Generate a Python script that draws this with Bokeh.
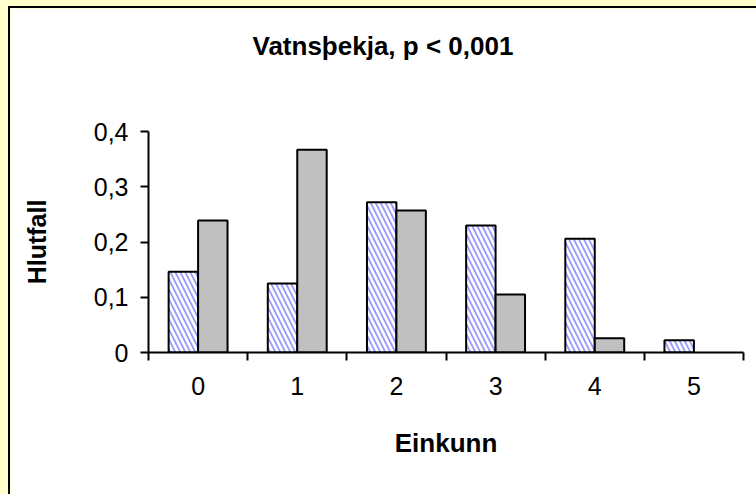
from bokeh.plotting import figure
from bokeh.models import FixedTicker, ColumnDataSource, GlobalInlineStyleSheet, Range1d, Title
from bokeh.embed import file_html
from bokeh.resources import INLINE

# ---- data ----
categories = ["0", "1", "2", "3", "4", "5"]
series_hatched = [0.146, 0.125, 0.272, 0.230, 0.206, 0.022]
series_grey = [0.239, 0.367, 0.257, 0.105, 0.026, 0.0]
y_ticks = [0.0, 0.1, 0.2, 0.3, 0.4]
y_tick_labels = ["0", "0,1", "0,2", "0,3", "0,4"]
title_text = "Vatnsþekja, p < 0,001"
x_label = "Einkunn"
y_label = "Hlutfall"

FONT = "Liberation Sans"
W, H = 770, 510

xs = list(range(len(categories)))
bar_w = 0.297

p = figure(width=W, height=H, output_backend="svg", toolbar_location=None,
           x_range=Range1d(-0.5, len(categories) - 0.5), y_range=Range1d(0, 0.4),
           min_border_left=138, min_border_right=39, min_border_top=123, min_border_bottom=168)
p.styles = {"position": "absolute", "left": "8px", "top": "6px",
            "border-left": "2px solid black", "border-top": "2px solid black",
            "box-sizing": "content-box"}
p.stylesheets = [GlobalInlineStyleSheet(
    css="html,body{margin:0;padding:0;overflow:hidden;background:#FFFFCC;}")]

p.background_fill_color = "white"
p.border_fill_color = "white"
p.outline_line_color = None
p.xgrid.visible = False
p.ygrid.visible = False

# spacer between frame and title
p.add_layout(Title(text=" ", text_font_size="49px"), "above")
p.title.text = title_text
p.title.text_font = FONT
p.title.text_font_size = "26px"
p.title.text_font_style = "bold"
p.title.text_color = "black"
p.title.align = "left"
p.title.offset = 104

src_h = ColumnDataSource(dict(x=[x - bar_w / 2 for x in xs], top=series_hatched))
gx = [x + bar_w / 2 for x in xs]
src_g = ColumnDataSource(dict(x=[x for x, t in zip(gx, series_grey) if t > 0],
                              top=[t for t in series_grey if t > 0]))

p.vbar(x="x", top="top", width=bar_w, bottom=0, source=src_h,
       fill_color="white", line_color="black", line_width=2,
       hatch_pattern="\\", hatch_color="#9999FF", hatch_scale=10, hatch_weight=1.8)
p.vbar(x="x", top="top", width=bar_w, bottom=0, source=src_g,
       fill_color="#C0C0C0", line_color="black", line_width=2)

# y axis
ya = p.yaxis[0]
ya.ticker = FixedTicker(ticks=y_ticks)
ya.major_label_overrides = {t: l for t, l in zip(y_ticks, y_tick_labels)}
ya.axis_line_width = 2
ya.axis_line_color = "black"
ya.major_tick_line_width = 2
ya.major_tick_out = 8
ya.major_tick_in = 0
ya.minor_tick_line_color = None
ya.major_label_text_font = FONT
ya.major_label_text_font_size = "25px"
ya.major_label_text_color = "black"
ya.major_label_standoff = 12
ya.axis_label = y_label
ya.axis_label_text_font = FONT
ya.axis_label_text_font_size = "25px"
ya.axis_label_text_font_style = "bold"
ya.axis_label_text_color = "black"
ya.axis_label_standoff = 40

# x axis
xa = p.xaxis[0]
xa.ticker = FixedTicker(ticks=xs, minor_ticks=[x - 0.5 for x in xs] + [xs[-1] + 0.5])
xa.major_label_overrides = {x: c for x, c in zip(xs, categories)}
xa.axis_line_width = 2
xa.axis_line_color = "black"
xa.major_tick_line_color = None
xa.major_tick_out = 0
xa.major_tick_in = 0
xa.minor_tick_line_color = "black"
xa.minor_tick_line_width = 2
xa.minor_tick_out = 8
xa.minor_tick_in = 0
xa.major_label_text_font = FONT
xa.major_label_text_font_size = "25px"
xa.major_label_text_color = "black"
xa.major_label_standoff = 16
xa.axis_label = x_label
xa.axis_label_text_font = FONT
xa.axis_label_text_font_size = "26px"
xa.axis_label_text_font_style = "bold"
xa.axis_label_text_color = "black"
xa.axis_label_standoff = 30

open("out.html", "w").write(file_html(p, INLINE))
